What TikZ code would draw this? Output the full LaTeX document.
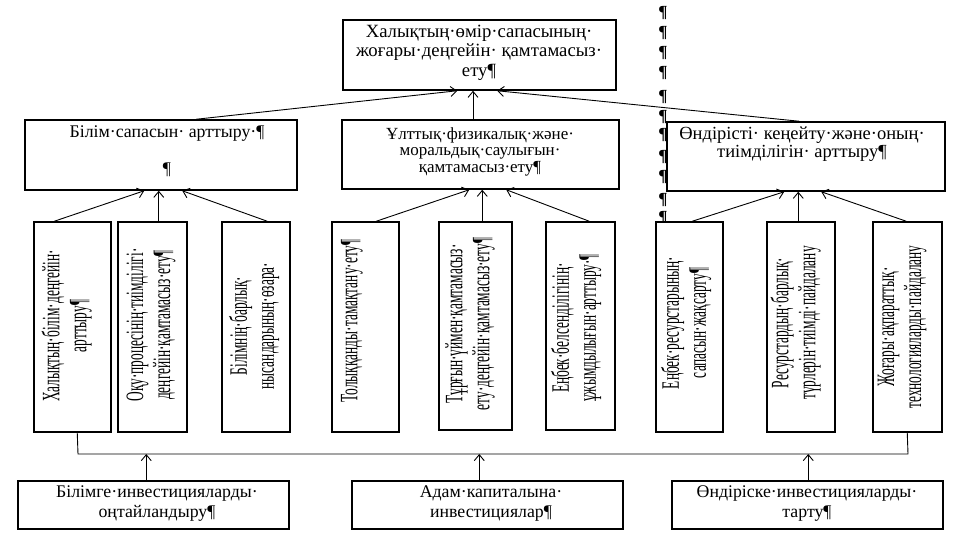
\documentclass[tikz,border=0pt]{standalone}
\usepackage{fontspec}
\setmainfont{Liberation Serif}
\newfontfamily\vfont[FakeStretch=0.535]{Liberation Serif}
\usetikzlibrary{arrows.meta}
\begin{document}
\begin{tikzpicture}[x=1pt,y=-1pt,
  box/.style={draw, line width=1.5pt, fill=white, inner sep=0pt},
  htext/.style={align=center, font=\fontsize{17.8}{20}\selectfont, inner sep=0pt},
  vtext/.style={align=center, rotate=90, font=\vfont\fontsize{25}{27}\selectfont, inner sep=0pt},
  conn/.style={line width=0.9pt},
  arr/.style={conn, -{Straight Barb[length=6pt,width=10pt]}},
  pil/.style={font=\bfseries\fontsize{17}{17}\selectfont, inner sep=0pt}]
\useasboundingbox (0,0) rectangle (960,540);
\fill[white] (0,0) rectangle (960,540);

% pilcrow column
\foreach \yy [count=\i] in {13,33,53,73,97,117,135,157,177,200,218}
  \node[pil] (pil\i) at (663,\yy) {¶};

% boxes
\node[box, minimum width=273, minimum height=70] (top) at (479.5,55) {};
\node[box, minimum width=272, minimum height=70] (L) at (161,155) {};
\node[box, minimum width=277, minimum height=69] (M) at (480.5,154.5) {};
\node[box, minimum width=278, minimum height=69] (R) at (806,156.5) {};
\node[box, minimum width=77, minimum height=210] (b1) at (72.5,327) {};
\node[box, minimum width=69, minimum height=210] (b2) at (152.5,327) {};
\node[box, minimum width=68, minimum height=210] (b3) at (256,327) {};
\node[box, minimum width=67, minimum height=210] (b4) at (365.5,327) {};
\node[box, minimum width=73, minimum height=208] (b5) at (475.5,326) {};
\node[box, minimum width=69, minimum height=208] (b6) at (580.5,326) {};
\node[box, minimum width=67, minimum height=210] (b7) at (689.5,327) {};
\node[box, minimum width=68, minimum height=210] (b8) at (801,327) {};
\node[box, minimum width=69, minimum height=210] (b9) at (907.5,327) {};
\node[box, minimum width=271, minimum height=48] (A) at (153.5,505) {};
\node[box, minimum width=271, minimum height=48] (B) at (487.5,505) {};
\node[box, minimum width=271, minimum height=48] (C) at (807.5,505) {};

% texts
\node[htext, font=\fontsize{18.7}{19.5}\selectfont] (topt) at (479,52.5) {Халықтың·өмір·сапасының·\\жоғары·деңгейін· қамтамасыз·\\ету¶};
\node[htext] (Lt) at (167,151.5) {Білім·сапасын· арттыру·¶\\[17pt]¶};
\node[htext, font=\fontsize{17}{16.5}\selectfont] (Mt) at (480,151.5) {Ұлттық·физикалық·және·\\моральдық·саулығын·\\қамтамасыз·ету¶};
\node[htext, font=\fontsize{18.5}{18}\selectfont] (Rt) at (802,144) {Өндірісті· кеңейту·және·оның·\\тиімділігін· арттыру¶};
\node[htext] (At) at (157,504) {Білімге·инвестицияларды·\\оңтайландыру¶};
\node[htext] (Bt) at (491,504) {Адам·капиталына·\\инвестициялар¶};
\node[htext] (Ct) at (807,504) {Өндіріске·инвестицияларды·\\тарту¶};

\node[vtext] (b1t) at (66.5,326) {Халықтың·білім·деңгейін·\\арттыру¶};
\node[vtext] (b2t) at (151,325) {Оқу·процесінің·тиімділігі·\\деңгейін·қамтамасыз·ету¶};
\node[vtext] (b3t) at (254,326) {Білімнің·барлық·\\нысандарының·өзара·};
\node[vtext] (b4t) at (352,321) {Толыққанды·тамақтану·ету¶};
\node[vtext] (b5t) at (470,324) {Тұрғын·үймен·қамтамасыз·\\ету·деңгейін·қамтамасыз·ету¶};
\node[vtext] (b6t) at (576,328) {Еңбек·белсенділігінің·\\ұжымдылығын·арттыру·¶};
\node[vtext] (b7t) at (686,323) {Еңбек·ресурстарының·\\сапасын·жақсарту¶};
\node[vtext] (b8t) at (795.5,323) {Ресурстардың·барлық·\\түрлерін·тиімді·пайдалану};
\node[vtext] (b9t) at (902,327) {Жоғары·ақпараттық·\\технологияларды·пайдалану};

% connectors to top
\draw[arr] ([xshift=172]L.north west) -- ([xshift=115]top.south west);
\draw[arr] ([xshift=-7.5]M.north) -- ([xshift=-6.5]top.south);
\draw[arr] ([xshift=133]R.north west) -- ([xshift=155]top.south west);

% connectors to second row
\draw[arr] ([xshift=21]b1.north west) -- ([xshift=120]L.south west);
\draw[arr] ([xshift=41.5]b2.north west) -- ([xshift=134.5]L.south west);
\draw[arr] ([xshift=46]b3.north west) -- ([xshift=158]L.south west);
\draw[arr] ([xshift=45]b4.north west) -- ([xshift=128]M.south west);
\draw[arr] ([xshift=44]b5.north west) -- ([xshift=141]M.south west);
\draw[arr] ([xshift=44]b6.north west) -- ([xshift=165]M.south west);
\draw[arr] ([xshift=37]b7.north west) -- ([xshift=118]R.south west);
\draw[arr] ([xshift=32]b8.north west) -- ([xshift=132]R.south west);
\draw[arr] ([xshift=34]b9.north west) -- ([xshift=155]R.south west);

% bus
\coordinate (busL) at (78,454);
\coordinate (busR) at (908,454);
\draw[conn] ([xshift=44]b1.south west) -- (busL) -- (busR) -- ([xshift=35]b9.south west);
\draw[arr] ([xshift=129]A.north west) coordinate (aT) -- (aT |- busL);
\draw[arr] ([xshift=128]B.north west) coordinate (bT) -- (bT |- busL);
\draw[arr] ([xshift=137]C.north west) coordinate (cT) -- (cT |- busL);
\end{tikzpicture}
\end{document}
